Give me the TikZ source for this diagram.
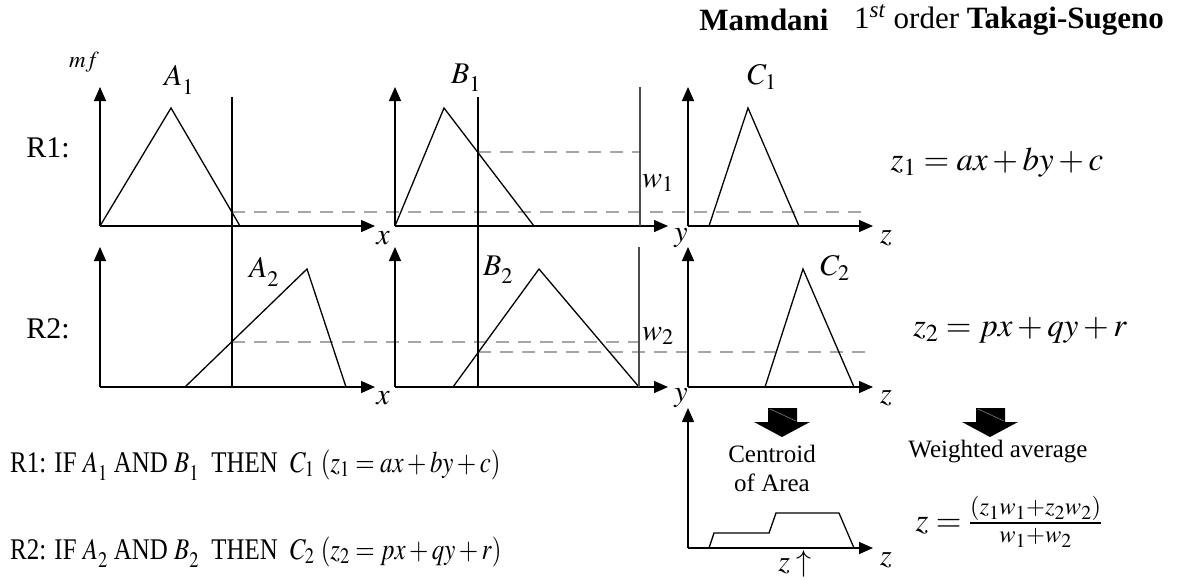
\documentclass[tikz,border=0pt]{standalone}
\usepackage{mathptmx}
\usepackage{fontspec}
\setmainfont{Liberation Serif}
\usetikzlibrary{arrows.meta}
\tikzset{
  axis/.style={line width=1.4pt, -{Triangle[length=14pt,width=12pt]}},
  mfline/.style={line width=1.3pt, line join=miter},
  cutline/.style={line width=1.3pt},
  wline/.style={line width=1.6pt, black!70},
  guide/.style={line width=1.1pt, black!35, dash pattern=on 13pt off 9pt},
  lbl/.style={font=\fontsize{30}{36}\selectfont, inner sep=0pt},
  eqlbl/.style={font=\fontsize{33}{40}\selectfont, inner sep=0pt},
  headlbl/.style={font=\fontsize{31}{36}\selectfont, inner sep=0pt},
  smalllbl/.style={font=\fontsize{25}{29}\selectfont, inner sep=0pt, align=center},
  bigarrow/.style={fill=black, draw=none},
}
\begin{document}
\begin{tikzpicture}[x=1pt,y=-1pt]
\useasboundingbox (0,0) rectangle (1189,579);

% origins of the small plots
\coordinate (oA1) at (100,226);
\coordinate (oB1) at (395,226);
\coordinate (oC1) at (688,226);
\coordinate (oA2) at (100,387);
\coordinate (oB2) at (395,387);
\coordinate (oC2) at (688,387);
\coordinate (oZ)  at (688,548);

% guide lines (dashed)
\draw[guide] (232,212) -- (867,212);
\draw[guide] (478,152) -- (640,152);
\draw[guide] (232,342) -- (640,342);
\draw[guide] (478,352) -- (867,352);

% axes
\coordinate (tA1) at (100,87);  \coordinate (xA1) at (375,226);
\coordinate (tB1) at (395,87);  \coordinate (xB1) at (668,226);
\coordinate (tC1) at (688,87);  \coordinate (xC1) at (873,226);
\coordinate (tA2) at (100,247); \coordinate (xA2) at (375,387);
\coordinate (tB2) at (395,247); \coordinate (xB2) at (668,387);
\coordinate (tC2) at (688,247); \coordinate (xC2) at (873,387);
\coordinate (tZ)  at (688,408); \coordinate (xZ)  at (873,548);
\foreach \o in {A1,B1,C1,A2,B2,C2,Z}{
  \draw[axis] (o\o) -- (t\o);
  \draw[axis] (o\o) -- (x\o);
}

% membership functions
\draw[mfline] (100,226) -- (171,108) -- (240,226);
\draw[mfline] (395,226) -- (444,108) -- (534,226);
\draw[mfline] (709,226) -- (748,108) -- (799,226);
\draw[mfline] (185,387) -- (307,269) -- (346,387);
\draw[mfline] (453,387) -- (539,269) -- (639,387);
\draw[mfline] (765,387) -- (803,269) -- (854,387);

% aggregated output
\draw[mfline] (709,548) -- (714,533) -- (769,533) -- (776,513) -- (839,513) -- (854,548);

% input cuts
\coordinate (cx1) at (232,97);  \coordinate (cx2) at (232,387);
\coordinate (cy1) at (478,97);  \coordinate (cy2) at (478,387);
\draw[cutline] (cx1) -- (cx2);
\draw[cutline] (cy1) -- (cy2);

% firing strengths
\coordinate (w1a) at (640,87);  \coordinate (w1b) at (640,226);
\coordinate (w2a) at (639,247); \coordinate (w2b) at (639,387);
\draw[wline] (w1a) -- (w1b);
\draw[wline] (w2a) -- (w2b);

% labels
\node[lbl, font=\fontsize{23}{26}\selectfont] (mf) at (84,62) {$mf$};
\node[lbl] (lA1) at (179,80) {$A_{\raisebox{-4pt}{$\scriptstyle 1$}}$};
\node[lbl] (lB1) at (466,78) {$B_{\raisebox{-4pt}{$\scriptstyle 1$}}$};
\node[lbl] (lC1) at (762,77) {$C_1$};
\node[lbl] (lA2) at (264,272) {$A_{\raisebox{-4pt}{$\scriptstyle 2$}}$};
\node[lbl] (lB2) at (498,270) {$B_{\raisebox{-4pt}{$\scriptstyle 2$}}$};
\node[lbl] (lC2) at (835,268) {$C_2$};
\node[lbl] (lw1) at (658,183) {$w_1$};
\node[lbl] (lw2) at (658,336) {$w_2$};

\node[lbl] (R1) at (48,148) {R1:};
\node[lbl] (R2) at (48,329) {R2:};

\node[lbl] (ax1) at (383,238) {$x$};
\node[lbl] (ay1) at (681,238) {$y$};
\node[lbl] (az1) at (886,238) {$z$};
\node[lbl] (ax2) at (383,398) {$x$};
\node[lbl] (ay2) at (681,398) {$y$};
\node[lbl] (az2) at (886,398) {$z$};
\node[lbl] (az3) at (886,560) {$z$};
\node[lbl, anchor=north] (zstar) at (795,550) {$z\uparrow$};

% headings
\node[headlbl] (mam) at (764,20) {\textbf{Mamdani}};
\node[headlbl] (ts) at (1009,20) {1\textsuperscript{\textit{st}} order \textbf{Takagi-Sugeno}};

% consequents
\node[eqlbl] (eq1) at (997,163) {$z_1 = ax + by + c$};
\node[eqlbl] (eq2) at (1020,330) {$z_2 = px + qy + r$};

% big arrows
\draw[bigarrow] (768,408) -- (797,408) -- (797,422) -- (810,422) -- (782,437) -- (754,422) -- (768,422) -- cycle;
\draw[bigarrow] (976,408) -- (1005,408) -- (1005,422) -- (1018,422) -- (990,437) -- (962,422) -- (976,422) -- cycle;
\draw[black!45, line width=0.5pt] (770,409) -- (796,421);
\draw[black!45, line width=0.5pt] (978,409) -- (1004,421);

\node[smalllbl] (coa) at (772,468) {Centroid\\of Area};
\node[smalllbl] (wavg) at (998,452) {Weighted average};
\node[eqlbl] (eq3) at (1009,522) {$z = \frac{(z_1w_1+z_2w_2)}{w_1+w_2}$};

% rules
\node[lbl, anchor=west] (rule1) at (10,465) {\scalebox{0.83}[1]{R1: IF $A_{\raisebox{-4pt}{$\scriptstyle 1$}}$ AND $B_{\raisebox{-4pt}{$\scriptstyle 1$}}$ \ THEN \ $C_1$ $\left(z_1 = ax + by + c\right)$}};
\node[lbl, anchor=west] (rule2) at (10,552) {\scalebox{0.83}[1]{R2: IF $A_{\raisebox{-4pt}{$\scriptstyle 2$}}$ AND $B_{\raisebox{-4pt}{$\scriptstyle 2$}}$ \ THEN \ $C_2$ $\left(z_2 = px + qy + r\right)$}};
\end{tikzpicture}
\end{document}
